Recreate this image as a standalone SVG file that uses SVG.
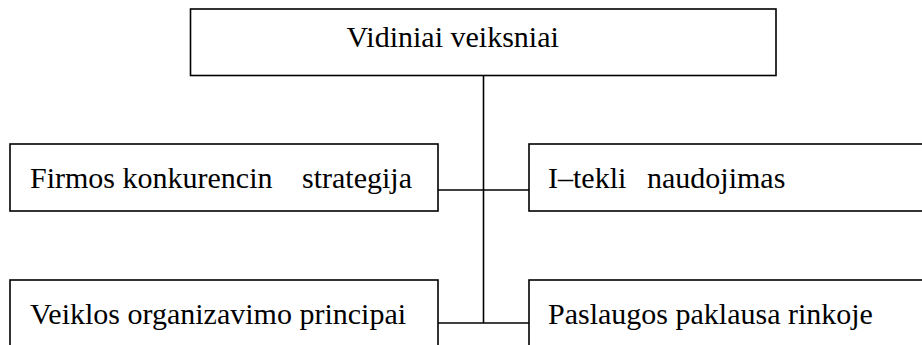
<svg xmlns="http://www.w3.org/2000/svg" width="922" height="345" viewBox="0 0 922 345">
<style>
.box{fill:#fff;stroke:#000;stroke-width:1.6}
.ln{stroke:#000;stroke-width:1.6;fill:none}
text{font-family:"Liberation Serif","Times New Roman",serif;font-size:30px;fill:#000}
</style>
<rect width="922" height="345" fill="#fff"/>
<g id="connectors">
<line class="ln" x1="483.5" y1="75.5" x2="483.5" y2="323"/>
<line class="ln" x1="438" y1="190" x2="529" y2="190"/>
<line class="ln" x1="438" y1="323" x2="529" y2="323"/>
</g>
<g id="n-vidiniai">
<rect class="box" x="190.5" y="9" width="585.5" height="66.5"/>
<text x="346.5" y="46.5">Vidiniai veiksniai</text>
</g>
<g id="n-firmos">
<rect class="box" x="10" y="144" width="428" height="67"/>
<text x="30" y="188">Firmos konkurencin</text>
<text x="302" y="188">strategija</text>
</g>
<g id="n-istekliu">
<rect class="box" x="529" y="144" width="400" height="67"/>
<text x="548" y="188">I–tekli</text>
<text x="647" y="188">naudojimas</text>
</g>
<g id="n-veiklos">
<rect class="box" x="10" y="280" width="428" height="80"/>
<text x="30" y="324">Veiklos organizavimo principai</text>
</g>
<g id="n-paslaugos">
<rect class="box" x="529" y="280" width="400" height="80"/>
<text x="548" y="324">Paslaugos paklausa rinkoje</text>
</g>
</svg>
